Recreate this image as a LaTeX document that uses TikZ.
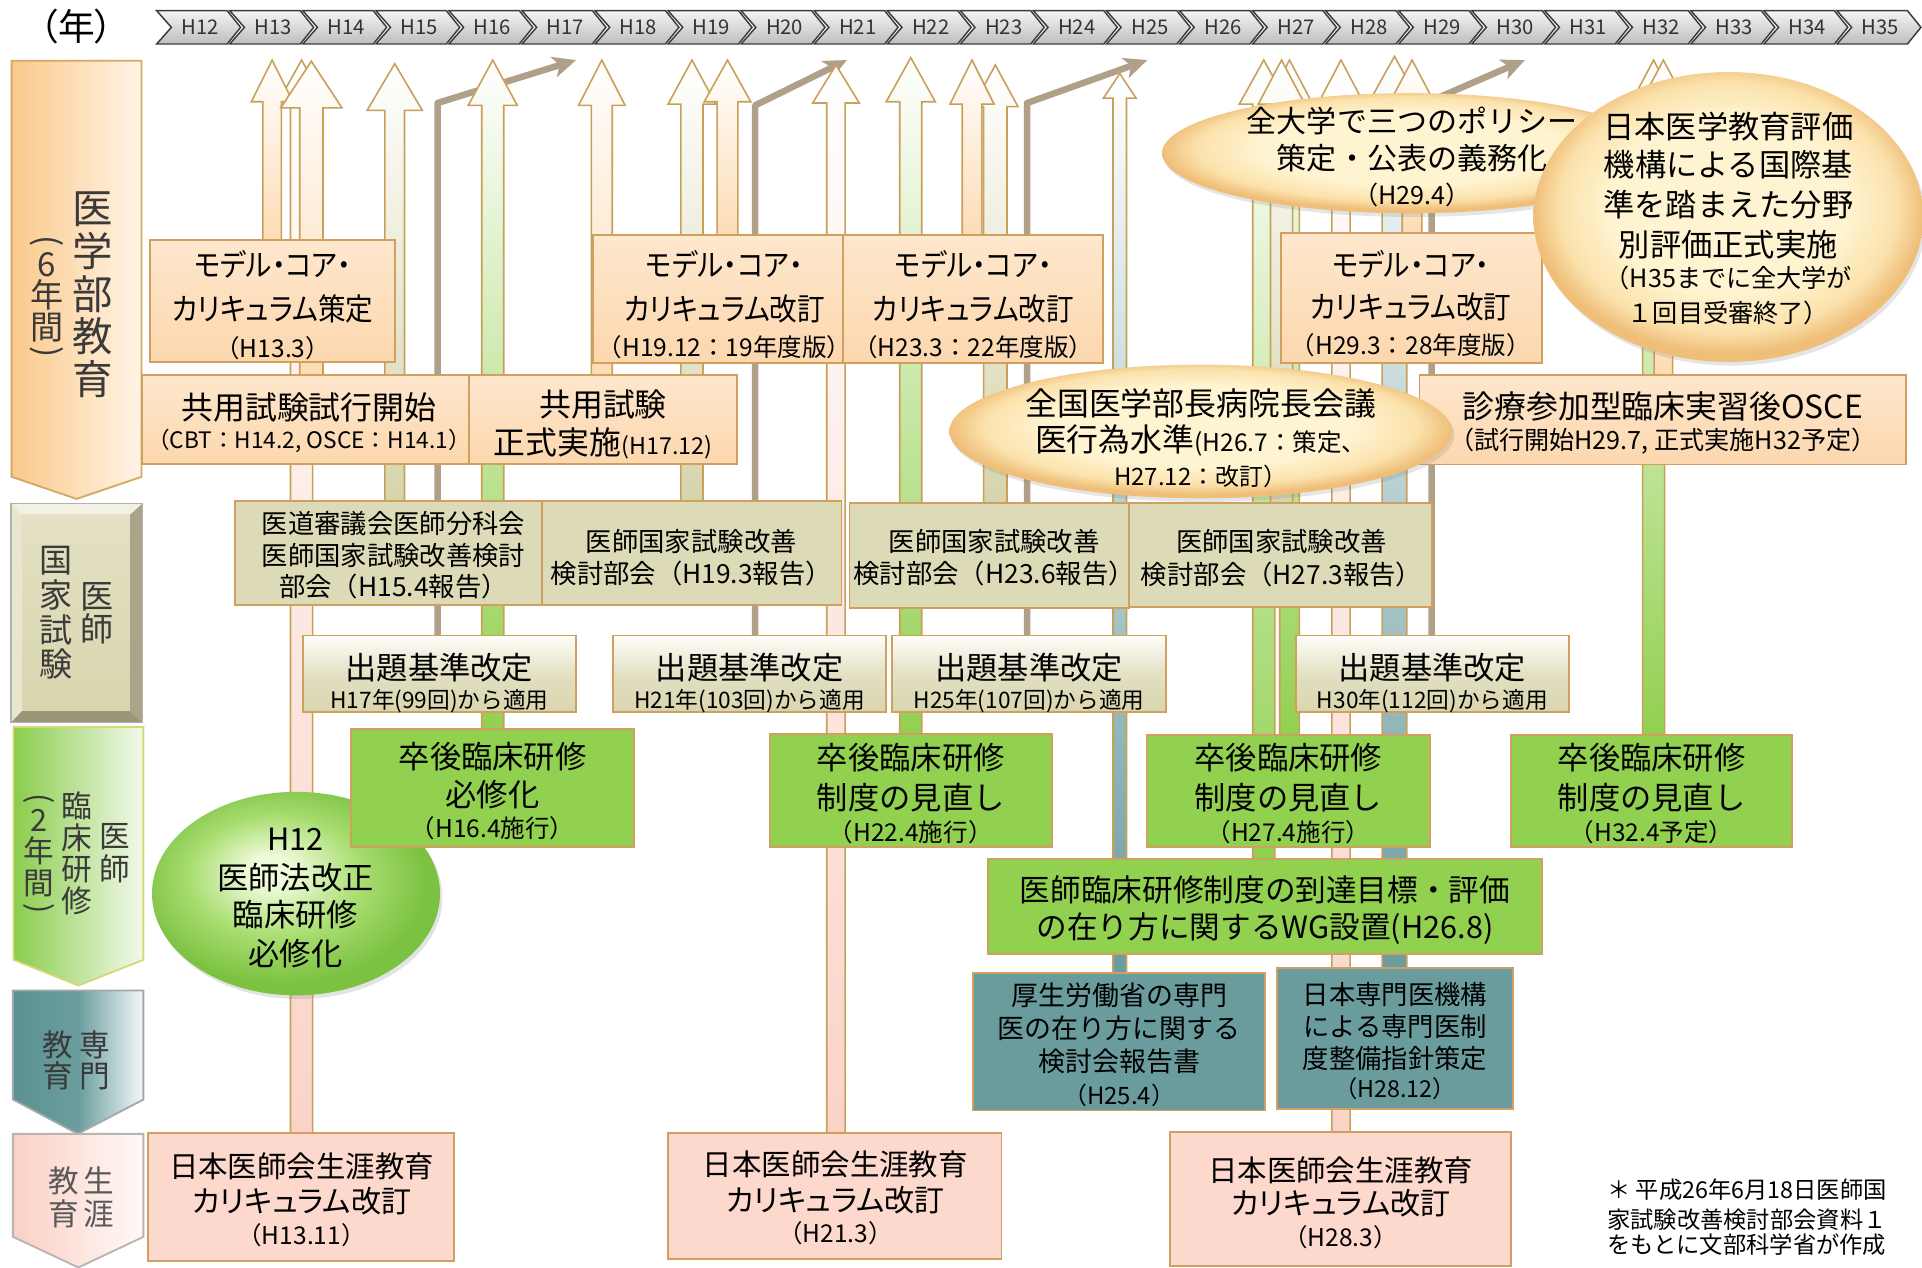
\documentclass[tikz,border=0pt]{standalone}
\usepackage{fontspec}
\setmainfont{Noto Sans CJK JP}
\newfontfamily\jpp{Noto Sans CJK JP}[RawFeature=+palt]
\newfontfamily\jpn{Noto Sans CJK JP}[RawFeature=+palt, FakeStretch=0.9]
\usetikzlibrary{arrows.meta,shadows,calc,shapes.geometric}
\pgfdeclarelayer{back}
\pgfdeclarelayer{bg}
\pgfsetlayers{back,bg,main}
\lineskiplimit=-60pt

\definecolor{chevline}{HTML}{3C3C3C}
\definecolor{chevtop}{HTML}{F4F4F4}
\definecolor{chevbot}{HTML}{BEBEBE}
\definecolor{chevtxt}{HTML}{333333}
\definecolor{arrline}{HTML}{C9A05A}
\definecolor{boxline}{HTML}{CFA060}
\definecolor{orF}{HTML}{FDDCB5}
\definecolor{piF}{HTML}{FAD3C8}
\definecolor{khF}{HTML}{D6D4AC}
\definecolor{grF}{HTML}{92D050}
\definecolor{teF}{HTML}{6A9C9F}
\definecolor{brL}{HTML}{B0A08A}
\definecolor{obT}{HTML}{FEE7CD}
\definecolor{obB}{HTML}{FCD7AE}
\definecolor{kbF}{HTML}{DDDBB7}
\definecolor{sbT}{HTML}{FEFEFA}
\definecolor{sbM}{HTML}{E3E0C4}
\definecolor{sbB}{HTML}{D8D5AD}
\definecolor{gbF}{HTML}{92D050}
\definecolor{tbF}{HTML}{6A9C9E}
\definecolor{pbF}{HTML}{FDD8CC}
\definecolor{ylIn}{HTML}{FFF4D2}
\definecolor{ylMid}{HTML}{FBE2AC}
\definecolor{ylOut}{HTML}{EFBF7A}
\definecolor{grIn}{HTML}{EEFAD8}
\definecolor{grMid}{HTML}{A8DD70}
\definecolor{grOut}{HTML}{7CC242}
\definecolor{labtxt}{HTML}{3A3A3A}
\definecolor{pOneL}{HTML}{FBC98A}
\definecolor{pOneR}{HTML}{FFF4E6}
\definecolor{pOneD}{HTML}{D4A867}
\definecolor{pThrL}{HTML}{8ACD4C}
\definecolor{pThrR}{HTML}{F3F9EC}
\definecolor{pThrD}{HTML}{D5D77A}
\definecolor{pFouL}{HTML}{5B9192}
\definecolor{pFouM}{HTML}{6B9D9E}
\definecolor{pFouR}{HTML}{F4F8F8}
\definecolor{pFouD}{HTML}{9FA9A9}
\definecolor{pFivL}{HTML}{FAD0C4}
\definecolor{pFivR}{HTML}{FFF9F7}
\definecolor{pFivD}{HTML}{B9B3B1}
\definecolor{bvTop}{HTML}{F3F1E3}
\definecolor{bvLeft}{HTML}{E9E6D0}
\definecolor{bvRight}{HTML}{A9A58A}
\definecolor{bvBot}{HTML}{9A967A}
\definecolor{bvInT}{HTML}{E4E1C4}
\definecolor{bvInB}{HTML}{D8D5AE}

\pgfdeclareradialshading{ylsh}{\pgfpoint{0bp}{3bp}}{color(0bp)=(ylIn); color(15bp)=(ylIn); color(21.5bp)=(ylMid); color(25bp)=(ylOut); color(50bp)=(ylOut)}
\pgfdeclareradialshading{grsh}{\pgfpoint{-5bp}{6bp}}{color(0bp)=(grIn); color(4bp)=(grIn); color(15bp)=(grMid); color(25bp)=(grOut); color(50bp)=(grOut)}

\tikzset{
  chev/.style={draw=chevline, line width=1.2pt, top color=chevtop, bottom color=chevbot},
  chevlbl/.style={inner sep=0pt, text=chevtxt, font=\fontsize{16.5}{16.5}\selectfont},
  bxbase/.style={inner sep=0pt, outer sep=0pt, draw=boxline, line width=1.5pt},
  obox/.style={bxbase, top color=obT, bottom color=obB},
  kbox/.style={bxbase, fill=kbF},
  sbox/.style={bxbase, top color=sbT, bottom color=sbB, middle color=sbM},
  gbox/.style={bxbase, fill=gbF},
  tbox/.style={bxbase, fill=tbF},
  pbox/.style={bxbase, fill=pbF},
  yell/.style={ellipse, inner sep=0pt, outer sep=0pt, shade, shading=ylsh,
     drop shadow={opacity=0.2, shadow xshift=2pt, shadow yshift=-3pt}},
  gell/.style={ellipse, inner sep=0pt, outer sep=0pt, shade, shading=grsh,
     drop shadow={opacity=0.22, shadow xshift=2pt, shadow yshift=-3pt}},
  blockarrow/.style={draw=arrline, line width=1.3pt, top color=white},
  brarr/.style={draw=brL, line width=5.3pt, line join=round, -{Stealth[length=19pt,width=17pt,inset=5pt]}},
  vlab/.style={inner sep=0pt, align=center, text=labtxt},
}

% box: style, name, x1, y1, x2, y2
\newcommand\bx[6]{\node[#1, minimum width={#5-#3}, minimum height={#6-#4}] (#2) at ({(#3+#5)/2},{(#4+#6)/2}) {};}
% text line: name, x, y, size, text
\newcommand\tx[5]{\node[inner sep=0pt, font=\fontsize{#4}{#4}\selectfont] (#1) at (#2,#3) {#5};}
\newcommand\txp[5]{\node[inner sep=0pt, font=\jpp\fontsize{#4}{#4}\selectfont] (#1) at (#2,#3) {#5};}
\newcommand\txn[5]{\node[inner sep=0pt, font=\jpn\fontsize{#4}{#4}\selectfont] (#1) at (#2,#3) {#5};}
% block arrow: tip coordinate, base node, colour, shaft half width, head half width, head length
\newcommand\barrow[6]{%
  \path[blockarrow, bottom color=#3] let \p1=(#1), \p2=(#1 |- #2.north) in
    (\x1-#4pt,\y2) -- (\x1-#4pt,\y1-#6pt) -- (\x1-#5pt,\y1-#6pt) -- (\x1,\y1)
    -- (\x1+#5pt,\y1-#6pt) -- (\x1+#4pt,\y1-#6pt) -- (\x1+#4pt,\y2) -- cycle;}

\begin{document}
\begin{tikzpicture}[x=1pt,y=-1pt]
\useasboundingbox (0,0) rectangle (1568,1034);
\begin{pgfonlayer}{back}
\fill[white] (0,0) rectangle (1568,1034);
\end{pgfonlayer}

% ---------- timeline ----------
\node[inner sep=0pt, font=\jpp\fontsize{30}{30}\selectfont] (nen) at (62.5,21.5) {（年）};
\foreach \i in {12,...,35}{
  \pgfmathsetmacro\cx{127.8+59.6*(\i-12)}
  \draw[chev] (\cx,8.7) -- ++(57.5,0) -- ++(11,13.6) -- ++(-11,13.6) -- ++(-57.5,0) -- ++(12,-13.6) -- cycle;
  \node[chevlbl] (h\i) at (\cx+35.5,22.5) {H\i};
}

% ---------- left category labels ----------
\path[draw=pOneD, line width=1.5pt, left color=pOneL, right color=pOneR]
  (9.5,49.5) -- (115.5,49.5) -- (115.5,389) -- (62.5,407) -- (9.5,389) -- cycle;
\node[vlab, font=\fontsize{33}{35}\selectfont] (P1t) at (76,240.5) {医\\学\\部\\教\\育};
\node[inner sep=0pt, rotate=-90, text=labtxt, font=\fontsize{27}{27}\selectfont] (P1p) at (38,197) {(};
\node[vlab, font=\fontsize{27}{26}\selectfont] (P1s) at (38,242.5) {6\\年\\間};
\node[inner sep=0pt, rotate=-90, text=labtxt, font=\fontsize{27}{27}\selectfont] (P1q) at (38,287) {)};

\fill[bvTop] (9,411) -- (116,411) -- (106,420) -- (18,420) -- cycle;
\fill[bvLeft] (9,411) -- (18,420) -- (18,580) -- (9,589.5) -- cycle;
\fill[bvRight] (116,411) -- (116,589.5) -- (106,580) -- (106,420) -- cycle;
\fill[bvBot] (9,589.5) -- (116,589.5) -- (106,580) -- (18,580) -- cycle;
\path[top color=bvInT, bottom color=bvInB] (18,420) rectangle (106,580);
\draw[gray!60, line width=1pt] (9,411) rectangle (116,589.5);
\node[vlab, font=\fontsize{27}{27}\selectfont] (P2a) at (79,500) {医\\師};
\node[vlab, font=\fontsize{27}{28.3}\selectfont] (P2b) at (45.5,500) {国\\家\\試\\験};

\path[draw=pThrD, line width=1.5pt, left color=pThrL, right color=pThrR]
  (11,593) -- (117,593) -- (117,783) -- (64,804) -- (11,783) -- cycle;
\node[vlab, font=\fontsize{25}{26.5}\selectfont] (P3a) at (94,696) {医\\師};
\node[vlab, font=\fontsize{25}{25.7}\selectfont] (P3b) at (63,696) {臨\\床\\研\\修};
\node[inner sep=0pt, rotate=-90, text=labtxt, font=\fontsize{25}{25}\selectfont] (P3p) at (31.5,651.5) {(};
\node[vlab, font=\fontsize{25}{25.75}\selectfont] (P3s) at (31.5,695.75) {2\\年\\間};
\node[inner sep=0pt, rotate=-90, text=labtxt, font=\fontsize{25}{25}\selectfont] (P3q) at (31.5,741) {)};

\path[draw=pFouD, line width=1.5pt, left color=pFouL, right color=pFouR, middle color=pFouM]
  (10.5,808) -- (117,808) -- (117,897) -- (63.5,925) -- (10.5,897) -- cycle;
\node[vlab, font=\fontsize{25}{25.5}\selectfont] (P4a) at (77,865) {専\\門};
\node[vlab, font=\fontsize{25}{25.5}\selectfont] (P4b) at (47,865) {教\\育};

\path[draw=pFivD, line width=1.5pt, left color=pFivL, right color=pFivR]
  (10.5,925) -- (117,925) -- (117,1009) -- (64,1034) -- (10.5,1009) -- cycle;
\node[vlab, font=\fontsize{25}{27}\selectfont, text=black!65] (P5a) at (80.7,976.5) {生\\涯};
\node[vlab, font=\fontsize{25}{27}\selectfont, text=black!65] (P5b) at (52,976.5) {教\\育};

% ---------- green ellipse (drawn below box B16) ----------
\node[gell, minimum width=235pt, minimum height=166pt] (E4) at (241.5,729) {};
\tx{E4a}{241}{685}{25}{H12}
\tx{E4b}{241}{716.4}{25.5}{医師法改正}
\tx{E4c}{241}{746.5}{25.5}{臨床研修}
\tx{E4d}{241}{777.6}{25.5}{必修化}

% ---------- boxes ----------
\bx{obox}{B1}{122.5}{196}{322.5}{295}
\bx{obox}{B2}{484}{192}{688}{296}
\bx{obox}{B3}{688}{192}{900}{296}
\bx{obox}{B4}{1045}{190}{1258}{296}
\bx{obox}{B5}{116}{306}{382.5}{378.5}
\bx{obox}{B6}{382.5}{306}{601.5}{378.5}
\bx{obox}{B7}{1158}{306}{1555}{379}
\bx{kbox}{B8}{192}{409}{442}{493.5}
\bx{kbox}{B9}{442}{409}{686.5}{493.5}
\bx{kbox}{B10}{693}{410.5}{921}{496}
\bx{kbox}{B11}{921}{410.5}{1168}{495.5}
\bx{sbox}{B12}{247}{518.5}{470}{581}
\bx{sbox}{B13}{500}{518.5}{723}{581}
\bx{sbox}{B14}{728}{518.5}{951}{581}
\bx{sbox}{B15}{1057}{518.5}{1280}{581}
\bx{gbox}{B16}{286.6}{595}{517}{691}
\bx{gbox}{B17}{628}{599}{858}{691}
\bx{gbox}{B18}{936}{599.5}{1166.5}{691}
\bx{gbox}{B19}{1232.5}{599.5}{1462}{691}
\bx{gbox}{B20}{806}{701}{1258}{778}
\bx{tbox}{B21}{794}{794}{1032}{906}
\bx{tbox}{B22}{1041.5}{790}{1234.3}{904.7}
\bx{pbox}{B23}{120.7}{924.6}{370.4}{1028.5}
\bx{pbox}{B24}{545.3}{924}{817}{1027}
\bx{pbox}{B25}{954.6}{923.8}{1232.7}{1032.8}

% ---------- box texts ----------
\txn{B1a}{222.5}{216}{25}{モデル・コア・}
\txn{B1b}{222.5}{252}{25}{カリキュラム策定}
\tx{B1c}{222.5}{284}{20}{（H13.3）}
\txn{B2a}{591}{216}{25}{モデル・コア・}
\txn{B2b}{591}{252}{25}{カリキュラム改訂}
\tx{B2c}{591}{283}{20}{（H19.12：19年度版）}
\txn{B3a}{794}{216}{25}{モデル・コア・}
\txn{B3b}{794}{252}{25}{カリキュラム改訂}
\tx{B3c}{794}{283}{20}{（H23.3：22年度版）}
\txn{B4a}{1151}{216}{25}{モデル・コア・}
\txn{B4b}{1151}{250}{25}{カリキュラム改訂}
\tx{B4c}{1151}{281.5}{20}{（H29.3：28年度版）}
\tx{B5a}{252}{332}{26}{共用試験試行開始}
\tx{B5b}{252}{360}{18.5}{（CBT：H14.2, OSCE：H14.1）}
\tx{B6a}{492}{330}{26}{共用試験}
\tx{B6b}{492}{362}{26}{正式実施{\fontsize{19}{19}\selectfont(H17.12)}}
\tx{B7a}{1356.5}{332}{26}{診療参加型臨床実習後OSCE}
\tx{B7b}{1356.5}{360}{20.5}{（試行開始H29.7, 正式実施H32予定）}

\tx{B8a}{321}{427}{21.5}{医道審議会医師分科会}
\tx{B8b}{321}{453}{21.5}{医師国家試験改善検討}
\tx{B8c}{321}{478.6}{21.5}{部会（H15.4報告）}
\tx{B9a}{564}{442}{21.5}{医師国家試験改善}
\tx{B9b}{564}{467.6}{21.5}{検討部会（H19.3報告）}
\tx{B10a}{811}{442}{21.5}{医師国家試験改善}
\tx{B10b}{811}{468}{21.5}{検討部会（H23.6報告）}
\tx{B11a}{1045.5}{442}{21.5}{医師国家試験改善}
\tx{B11b}{1045.5}{469}{21.5}{検討部会（H27.3報告）}

\tx{B12a}{358.5}{545}{25.5}{出題基準改定}
\tx{B12b}{358.5}{572.4}{18.5}{H17年(99回)から適用}
\tx{B13a}{611.5}{545}{25.5}{出題基準改定}
\tx{B13b}{611.5}{572.4}{18.5}{H21年(103回)から適用}
\tx{B14a}{839.5}{545}{25.5}{出題基準改定}
\tx{B14b}{839.5}{572.4}{18.5}{H25年(107回)から適用}
\tx{B15a}{1168.5}{545}{25.5}{出題基準改定}
\tx{B15b}{1168.5}{572.4}{18.5}{H30年(112回)から適用}

\tx{B16a}{401.8}{617}{25.5}{卒後臨床研修}
\tx{B16b}{401.8}{648.6}{25.5}{必修化}
\tx{B16c}{401.8}{675.6}{20}{（H16.4施行）}
\tx{B17a}{743}{618.5}{25.5}{卒後臨床研修}
\tx{B17b}{743}{651}{25.5}{制度の見直し}
\tx{B17c}{743}{678.5}{20}{（H22.4施行）}
\tx{B18a}{1051}{618.5}{25.5}{卒後臨床研修}
\tx{B18b}{1051}{651}{25.5}{制度の見直し}
\tx{B18c}{1051}{678.5}{20}{（H27.4施行）}
\tx{B19a}{1347.5}{618.5}{25.5}{卒後臨床研修}
\tx{B19b}{1347.5}{651}{25.5}{制度の見直し}
\tx{B19c}{1347.5}{678.5}{20}{（H32.4予定）}
\tx{B20a}{1032}{726}{25}{医師臨床研修制度の到達目標・評価}
\tx{B20b}{1032}{757.3}{25}{の在り方に関するWG設置(H26.8)}

\tx{B21a}{913}{811.7}{22}{厚生労働省の専門}
\tx{B21b}{913}{839}{22}{医の在り方に関する}
\tx{B21c}{913}{866}{22}{検討会報告書}
\tx{B21d}{913}{893.3}{19.5}{（H25.4）}
\tx{B22a}{1138}{811.7}{21.5}{日本専門医機構}
\tx{B22b}{1138}{837.6}{21.5}{による専門医制}
\tx{B22c}{1138}{863.4}{21.5}{度整備指針策定}
\tx{B22d}{1138}{887.9}{19}{（H28.12）}

\tx{B23a}{246}{951.7}{24}{日本医師会生涯教育}
\txp{B23b}{246}{980.3}{24.5}{カリキュラム改訂}
\tx{B23c}{246}{1007.5}{20}{（H13.11）}
\tx{B24a}{681.5}{949.6}{24}{日本医師会生涯教育}
\txp{B24b}{681.5}{979}{24.5}{カリキュラム改訂}
\tx{B24c}{681.5}{1006}{20}{（H21.3）}
\tx{B25a}{1093.7}{954.5}{24}{日本医師会生涯教育}
\txp{B25b}{1093.7}{981.7}{24.5}{カリキュラム改訂}
\tx{B25c}{1093.7}{1008.9}{20}{（H28.3）}

% ---------- yellow ellipses ----------
\node[yell, minimum width=410pt, minimum height=109pt] (E1) at (979.5,352) {};
\tx{E1a}{979.5}{329}{26}{全国医学部長病院長会議}
\tx{E1b}{979.5}{359}{26}{医行為水準{\fontsize{20}{20}\selectfont(H26.7：策定、}}
\tx{E1c}{979.5}{389}{19.5}{H27.12：改訂）}

\node[yell, minimum width=404pt, minimum height=98pt] (E2) at (1150,125) {};
\tx{E2a}{1152}{99}{24.5}{全大学で三つのポリシー}
\tx{E2b}{1152}{129}{24.5}{策定・公表の義務化}
\tx{E2c}{1152}{159}{20.5}{（H29.4）}

\node[yell, minimum width=318pt, minimum height=236.5pt] (E3) at (1410,177) {};
\tx{E3a}{1410}{103.4}{25.5}{日本医学教育評価}
\tx{E3b}{1410}{134.6}{25.5}{機構による国際基}
\tx{E3c}{1410}{167.2}{25.5}{準を踏まえた分野}
\tx{E3d}{1410}{199.9}{25.5}{別評価正式実施}
\tx{E3e}{1410}{227}{20.5}{（H35までに全大学が}
\tx{E3f}{1410}{255.6}{20.5}{１回目受審終了）}

% ---------- footnote ----------
\node[inner sep=0pt, anchor=west, font=\fontsize{19}{19}\selectfont] (F1) at (1311,970.8) {＊ 平成26年6月18日医師国};
\node[inner sep=0pt, anchor=west, font=\fontsize{19}{19}\selectfont] (F2) at (1311,995.3) {家試験改善検討部会資料１};
\node[inner sep=0pt, anchor=west, font=\fontsize{19}{19}\selectfont] (F3) at (1311,1015.7) {をもとに文部科学省が作成};

% ---------- arrow coordinates ----------
\coordinate (ta1) at (222,49);
\coordinate (ta2) at (246,49);
\coordinate (ta3) at (254,50);
\coordinate (ta4) at (322,52);
\coordinate (ta6) at (402,49);
\coordinate (ta7) at (491,49);
\coordinate (ta8) at (564.5,49);
\coordinate (ta9) at (593.5,49);
\coordinate (ta11) at (682,53);
\coordinate (ta12) at (743,47);
\coordinate (ta13) at (793,49);
\coordinate (ta14) at (812,53);
\coordinate (ta16) at (913.5,60);
\coordinate (tr1) at (1031,49);
\coordinate (tr2) at (1045.5,49);
\coordinate (tr3) at (1052,49);
\coordinate (tr4) at (1094,49);
\coordinate (tr5) at (1137.6,46);
\coordinate (tr6) at (1152,49);
\coordinate (tr8) at (1349,49);
\coordinate (tr9) at (1357,49);
\coordinate (kb1) at (357,84);   \coordinate (kt1) at (470,49);
\coordinate (kb2) at (616,86);   \coordinate (kt2) at (691,49);
\coordinate (kb3) at (838,84);   \coordinate (kt3) at (936,49);
\coordinate (kb4) at (1168,82);  \coordinate (kt4) at (1244,49);

% ---------- arrows (behind boxes) ----------
\begin{pgfonlayer}{bg}
\draw[brarr] (kb1 |- B12.north) -- (kb1) -- (kt1);
\draw[brarr] (kb2 |- B13.north) -- (kb2) -- (kt2);
\draw[brarr] (kb3 |- B14.north) -- (kb3) -- (kt3);
\draw[brarr] (kb4 |- B15.north) -- (kb4) -- (kt4);
\barrow{ta2}{B23}{piF}{9}{20}{36}
\barrow{ta1}{B1}{orF}{7.5}{17}{34}
\barrow{ta3}{B5}{orF}{9.5}{25}{38}
\barrow{ta4}{B8}{khF}{8}{22.5}{38}
\barrow{ta6}{B16}{grF}{9}{20}{37}
\barrow{ta7}{B6}{orF}{8.5}{19}{37}
\barrow{ta8}{B9}{khF}{9}{19.5}{36}
\barrow{ta9}{B2}{orF}{8.5}{19}{34}
\barrow{ta11}{B24}{piF}{7.5}{19}{31}
\barrow{ta12}{B17}{grF}{9}{20}{36}
\barrow{ta14}{B10}{khF}{9.5}{18.5}{34}
\barrow{ta13}{B3}{orF}{8}{18}{36}
\barrow{ta16}{B21}{teF}{5.5}{13.3}{20}
\barrow{tr1}{B20}{grF}{9}{20}{36}
\barrow{tr3}{B18}{grF}{8}{19}{36}
\barrow{tr2}{B11}{khF}{9}{19}{36}
\barrow{tr4}{B25}{piF}{7.5}{19}{36}
\barrow{tr5}{B22}{teF}{10}{20}{36}
\barrow{tr6}{B4}{orF}{8}{19}{36}
\barrow{tr8}{B19}{grF}{9}{19}{36}
\barrow{tr9}{B7}{orF}{7.5}{19}{36}
\end{pgfonlayer}
\end{tikzpicture}
\end{document}
